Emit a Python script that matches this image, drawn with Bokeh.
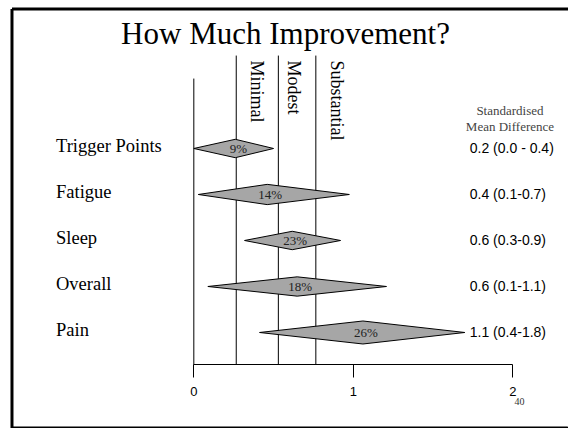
import math
from bokeh.plotting import figure
from bokeh.models import Range1d, LinearAxis, FixedTicker, Label, ColumnDataSource, BoxAnnotation
from bokeh.core.properties import value
from bokeh.embed import file_html
from bokeh.resources import INLINE

# ---- data ----
categories = ["Trigger Points", "Fatigue", "Sleep", "Overall", "Pain"]
smd_mid = [0.26, 0.46, 0.617, 0.648, 1.06]
smd_low = [0.0, 0.028, 0.318, 0.088, 0.412]
smd_high = [0.50, 0.975, 0.92, 1.208, 1.699]
weights = [0.20, 0.22, 0.20, 0.21, 0.25]
improvement_pct = ["9%", "14%", "23%", "18%", "26%"]
smd_text = ["0.2 (0.0 - 0.4)", "0.4 (0.1-0.7)", "0.6 (0.3-0.9)", "0.6 (0.1-1.1)", "1.1 (0.4-1.8)"]
threshold_values = [0.266, 0.53, 0.765]
threshold_labels = ["Minimal", "Modest", "Substantial"]
x_ticks = [0, 1, 2]

SERIF = value("Liberation Serif")
SANS = value("Liberation Sans")

rows = list(range(len(categories)))
AXIS_Y = 4.696

p = figure(width=568, height=428, output_backend="svg", toolbar_location=None,
           x_range=Range1d(-1.212, 2.349), y_range=Range1d(6.087, -3.217),
           x_axis_location=None, y_axis_location=None,
           min_border=0, min_border_left=0, min_border_right=0,
           min_border_top=0, min_border_bottom=0)
p.outline_line_color = None
p.xgrid.visible = False
p.ygrid.visible = False
p.background_fill_color = "white"
p.border_fill_color = "white"

# slide frame: top, left and bottom edges (the right edge lies outside the view)
p.segment(x0=[-1.140, -1.140, -1.140], x1=[2.36, -1.140, 2.36],
          y0=[-3.033, -3.033, 6.076], y1=[-3.033, 6.076, 6.076],
          line_color="black", line_width=3, line_cap="butt")

# axis
ax = LinearAxis(ticker=FixedTicker(ticks=x_ticks), fixed_location=AXIS_Y, bounds=(0, 2))
ax.axis_line_color = "black"
ax.axis_line_width = 1
ax.major_tick_in = 0
ax.major_tick_out = 13
ax.major_tick_line_color = "black"
ax.minor_tick_line_color = None
ax.major_label_text_font = "Liberation Sans"
ax.major_label_text_font_size = "13px"
ax.major_label_text_color = "black"
ax.major_label_standoff = 9
p.add_layout(ax, "below")

# reference lines
p.segment(x0=[0], x1=[0], y0=[-1.52], y1=[AXIS_Y], line_color="black", line_width=1)
p.segment(x0=threshold_values, x1=threshold_values, y0=[-2.02] * 3, y1=[AXIS_Y] * 3,
          line_color="black", line_width=1)

# threshold labels (rotated)
lab_src = ColumnDataSource(dict(x=[0.393, 0.627, 0.899], y=[-1.913] * 3, t=threshold_labels))
p.text(x="x", y="y", text="t", source=lab_src, angle=-math.pi / 2,
       text_align="left", text_baseline="middle", text_font=SERIF,
       text_font_size="18px", text_color="black")

# diamonds
xs = [[lo, m, hi, m] for lo, m, hi in zip(smd_low, smd_mid, smd_high)]
ys = [[r, r - w, r, r + w] for r, w in zip(rows, weights)]
p.patches(xs=xs, ys=ys, fill_color="#a6a6a6", line_color="black", line_width=1)

# percent labels
p.text(x=smd_mid, y=rows, text=improvement_pct, x_offset=3, text_align="center",
       text_baseline="middle", text_font=SERIF, text_font_size="13px", text_color="#222222")

# category labels
p.text(x=[-0.864] * 5, y=[r - 0.05 for r in rows], text=categories, text_align="left",
       text_baseline="middle", text_font=SERIF, text_font_size="18.5px", text_color="black")

# SMD texts
p.text(x=[1.730] * 5, y=rows, text=smd_text, text_align="left",
       text_baseline="middle", text_font=SANS, text_font_size="14px", text_color="black")

# header
p.add_layout(Label(x=1.982, y=-0.826, text="Standardised", text_align="center",
                   text_baseline="middle", text_font="Liberation Serif", text_font_size="13px"))
p.add_layout(Label(x=1.982, y=-0.485, text="Mean Difference", text_align="center",
                   text_baseline="middle", text_font="Liberation Serif", text_font_size="13px"))

# title
p.add_layout(Label(x=0.575, y=-2.49, text="How Much Improvement?", text_align="center",
                   text_baseline="middle", text_font="Liberation Serif", text_font_size="31px",
                   text_color="black"))

# page number
p.add_layout(Label(x=2.042, y=5.5, text="40", text_align="center", text_baseline="middle",
                   text_font="Liberation Serif", text_font_size="10px", text_color="#333333"))

# white mask over the right canvas edge (hides the canvas edge line)
p.add_layout(BoxAnnotation(left=2.3397, right=2.40, top=-2.98, bottom=6.04,
                           fill_color="white", fill_alpha=1.0, line_color=None,
                           level="overlay"))

open("out.html", "w").write(file_html(p, INLINE))
